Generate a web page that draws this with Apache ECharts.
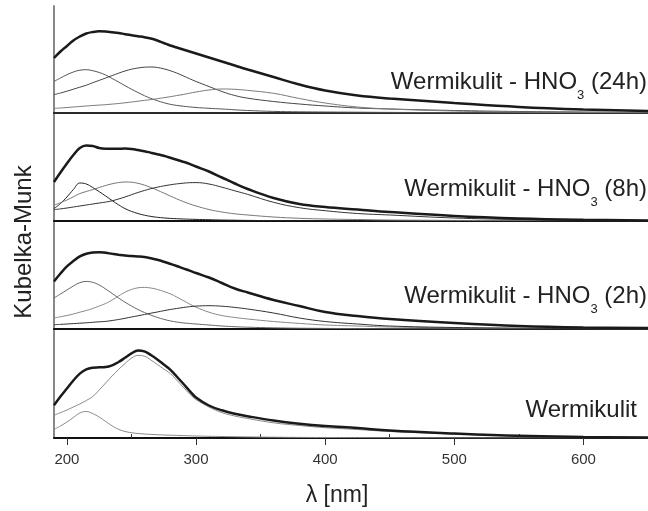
<!DOCTYPE html>
<html>
<head>
<meta charset="utf-8">
<script src="https://cdn.jsdelivr.net/npm/echarts@6/dist/echarts.min.js"></script>
<style>
  html, body { margin: 0; padding: 0; background: #fff; }
  #chart { width: 648px; height: 511px; }
</style>
</head>
<body>
<div id="chart"></div>
<script>
// wavelength grid (nm) shared by every curve
var wavelength = [190, 195, 200, 205, 210, 215, 220, 225, 230, 235, 240, 245, 250, 255, 260, 265, 270, 275, 280, 285, 290, 295, 300,
    310, 320, 330, 340, 360, 380, 400, 425, 450, 500, 550, 600, 650];

// Wermikulit - HNO3 (24h)
var h24Total = [55, 61.5, 67, 72.5, 76.5, 79.5, 81, 81.7, 81.5, 80.8, 80, 78.8, 77.8, 76.8, 75.8, 74.5, 72.5, 70, 67.5, 65.5, 63.5, 61.5, 59.5,
    55.5, 51.5, 47.5, 43.5, 36, 28.5, 22.5, 17.5, 14.5, 10, 6, 3.5, 2];
var h24A = [31.6, 35, 38.3, 41, 42.8, 43.3, 42.3, 40.5, 38, 34.5, 31, 27.3, 23.8, 20.5, 17.3, 14.6, 12.3, 10.3, 8.7, 7.6, 6.8, 6.1, 5.5,
    4.7, 4, 3.2, 2.5, 1.6, 1.2, 1, 0.8, 0.6, 0.4, 0.3, 0.2, 0.1];
var h24B = [18.3, 20, 21.8, 23.8, 25.8, 27.8, 30.3, 32.6, 35, 37.4, 39.8, 42, 43.8, 45, 45.8, 46, 45.5, 44.2, 42.3, 40, 37.2, 34.3, 31.5,
    26.5, 21.5, 17.5, 14.8, 11.5, 9, 7, 5, 4, 2.5, 1.5, 1, 0.6];
var h24C = [4.6, 5, 5.5, 6, 6.5, 7, 7.5, 7.9, 8.3, 8.9, 9.5, 10.2, 11, 11.8, 12.6, 13.4, 14.3, 15.3, 16.3, 17.4, 18.5, 19.8, 21,
    23, 24, 23.7, 22.6, 19.7, 14.5, 10, 6, 4, 2, 1, 0.6, 0.3];

// Wermikulit - HNO3 (8h)
var h8Total = [39, 48.5, 57.5, 66, 73, 75.6, 75, 73, 72.3, 72.2, 72.3, 72.4, 72, 71, 69.8, 68.3, 66.8, 65.2, 63.3, 61.3, 59.2, 57.2, 54.5,
    49.5, 43.5, 37.5, 32, 23, 17, 14, 11.5, 9, 5, 2.5, 1.2, 0.6];
var h8A = [12.4, 17.5, 24, 31.5, 38, 37, 33.5, 29.3, 25, 20.5, 16.2, 12.4, 9.6, 7.5, 5.8, 4.6, 3.7, 3.1, 2.6, 2.3, 2, 1.8, 1.6,
    1.3, 1, 0.8, 0.6, 0.4, 0.3, 0.2, 0.2, 0.1, 0.1, 0, 0, 0];
var h8B = [15.7, 18.3, 21, 24.2, 27.4, 29.5, 31.4, 33.5, 35.5, 37.2, 38.4, 39, 38.8, 37.7, 35.9, 33.5, 30.8, 28, 25, 22.2, 19.5, 17.1, 15,
    11.5, 9, 7.2, 6, 4, 2.7, 2, 1.5, 1, 0.6, 0.4, 0.3, 0.2];
var h8C = [11.4, 12.1, 13, 14, 15, 16, 17, 18, 18.9, 20.2, 22, 24, 26.3, 28.5, 30.5, 32.3, 33.8, 35.1, 36.2, 37.1, 37.8, 38.3, 38.4,
    37, 33.8, 30.2, 26.6, 18.7, 13.3, 10.3, 7.5, 6, 3, 1.5, 0.8, 0.4];

// Wermikulit - HNO3 (2h)
var h2Total = [47.6, 55.5, 62.6, 68, 72.6, 75.3, 76.6, 76.8, 76.2, 75.2, 74.3, 73.5, 73, 72.6, 72, 70.8, 69.2, 67.3, 65.2, 63, 60.6, 58.4, 56,
    51.5, 46, 40.5, 36.5, 29, 23, 17, 13, 10, 6, 3, 1.5, 1];
var h2A = [31, 35, 39, 43, 46.3, 47.6, 46.7, 44, 40, 35.6, 31, 26.8, 23, 19.5, 16.5, 13.9, 11.6, 9.7, 8.1, 7, 6.1, 5.5, 5,
    4, 3, 2.3, 1.8, 1.2, 0.8, 0.6, 0.4, 0.3, 0.2, 0.1, 0.1, 0];
var h2B = [11, 12.2, 13.5, 15, 16.8, 18.5, 20.5, 23, 25.5, 29, 33, 36.8, 39.5, 41.2, 41.6, 41, 39.6, 37.5, 35.2, 32, 28.5, 25, 21.8,
    16.8, 13.5, 11.5, 10, 7.5, 5.6, 4, 3, 2, 1.2, 0.7, 0.4, 0.2];
var h2C = [4.3, 4.6, 5, 5.4, 5.8, 6.2, 6.7, 7.2, 7.6, 8.5, 9.5, 10.7, 12, 13.2, 14.5, 15.8, 17, 18.3, 19.5, 20.5, 21.5, 22.3, 22.9,
    23.3, 22.8, 21.6, 20, 16, 11, 7.5, 5, 3, 1.5, 0.8, 0.4, 0.2];

// Wermikulit
var w0Total = [32.7, 41.5, 49.5, 57.5, 64.4, 68.6, 70.3, 70.7, 71, 72.7, 76, 80.2, 84.6, 87.6, 86.6, 83, 78.6, 73.5, 68.3, 61.5, 54.5, 47.2, 40.5,
    32.5, 27.7, 24.3, 21.8, 17.5, 14.3, 12, 10, 7.5, 4.5, 2.2, 1.1, 0.5];
var w0A = [8.7, 12, 16, 20.5, 25, 26.5, 24.4, 21, 16.5, 12.2, 8.7, 6.5, 5.3, 4.5, 4, 3.6, 3.3, 3, 2.8, 2.6, 2.4, 2.2, 2,
    1.7, 1.5, 1.3, 1.1, 0.8, 0.6, 0.5, 0.4, 0.3, 0.2, 0.1, 0.1, 0];
var w0B = [22.7, 25.3, 28, 31, 34, 37.5, 41.5, 48, 55, 62, 68.5, 74.5, 79.8, 82.6, 81.8, 78, 73.6, 69, 64.5, 58, 51, 44, 38.5,
    31, 25.4, 22, 19.5, 15.2, 12.5, 10.3, 8.5, 6.5, 4, 2, 1, 0.5];

var majorTicks = [200, 300, 400, 500, 600];
var minorTicks = [250, 350, 450, 550, 650];

var panelLabels = ['Wermikulit - HNO{sub|3} (24h)', 'Wermikulit - HNO{sub|3} (8h)', 'Wermikulit - HNO{sub|3} (2h)', 'Wermikulit'];

var FONT = '"Liberation Sans", Arial, sans-serif';

function pairs(values) {
    return wavelength.map(function (w, i) { return [w, values[i]]; });
}

// panel boxes (top, height) in px
var panels = [
    { top: 6, height: 107 },
    { top: 113, height: 108 },
    { top: 221, height: 108 },
    { top: 329, height: 109 }
];

var curves = [
    [[h24A, '#555'], [h24B, '#444'], [h24C, '#7a7a7a'], [h24Total, '#1a1a1a']],
    [[h8A, '#222'], [h8B, '#777'], [h8C, '#333'], [h8Total, '#1a1a1a']],
    [[h2A, '#666'], [h2B, '#888'], [h2C, '#333'], [h2Total, '#1a1a1a']],
    [[w0A, '#888'], [w0B, '#888'], [w0Total, '#1a1a1a']]
];

var grids = [], xAxes = [], yAxes = [], series = [];

panels.forEach(function (p, k) {
    grids.push({ left: 54, width: 598, top: p.top, height: p.height });
    var last = k === panels.length - 1;
    xAxes.push({
        type: 'value', gridIndex: k, min: 190, max: 650,
        axisLine: { show: true, onZero: false, lineStyle: { color: '#111', width: 2 } },
        axisTick: { show: last, customValues: majorTicks, length: 7, lineStyle: { color: '#333' } },
        axisLabel: { show: last, customValues: majorTicks, margin: 14, fontSize: 15, color: '#333', fontFamily: FONT },
        splitLine: { show: false }
    });
    yAxes.push({
        type: 'value', gridIndex: k, min: 0, max: p.height,
        axisLine: { show: true, lineStyle: { color: '#888', width: 2 } },
        axisTick: { show: false }, axisLabel: { show: false }, splitLine: { show: false }
    });
    curves[k].forEach(function (c, j) {
        var thick = j === curves[k].length - 1;
        series.push({
            type: 'line', xAxisIndex: k, yAxisIndex: k,
            data: pairs(c[0]), smooth: 0.4, showSymbol: false, silent: true,
            z: thick ? 3 : 2,
            lineStyle: { color: c[1], width: thick ? 2.5 : 1 }
        });
    });
});

// top frame line of the first panel
xAxes.push({
    type: 'value', gridIndex: 0, min: 190, max: 650, position: 'top',
    axisLine: { show: true, lineStyle: { color: '#333', width: 1.5 } },
    axisTick: { show: false }, axisLabel: { show: false }, splitLine: { show: false }
});
// minor ticks of the bottom axis
xAxes.push({
    type: 'value', gridIndex: 3, min: 190, max: 650,
    axisLine: { show: false },
    axisTick: { show: true, customValues: minorTicks, length: 4, lineStyle: { color: '#333' } },
    axisLabel: { show: false }, splitLine: { show: false }
});

// label baselines and right edges (px)
var labelBase = [90, 197, 304, 418];
var labelRight = [647, 647, 647, 637];
var graphics = panelLabels.map(function (t, k) {
    return {
        type: 'text', x: labelRight[k], y: labelBase[k] - 28,
        style: {
            text: t, fill: '#222', font: '24px ' + FONT, align: 'right', verticalAlign: 'top',
            lineHeight: 40,
            rich: { sub: { fontSize: 13, lineHeight: 13, verticalAlign: 'bottom', fontFamily: FONT, fill: '#222' } }
        }
    };
});
graphics.push({
    type: 'text', x: 24, y: 242, rotation: Math.PI / 2,
    style: { text: 'Kubelka-Munk', fill: '#222', font: '24px ' + FONT, align: 'center', verticalAlign: 'middle' }
});
graphics.push({
    type: 'text', x: 337, y: 496,
    style: { text: 'λ [nm]', fill: '#222', font: '23px ' + FONT, align: 'center', verticalAlign: 'middle' }
});

var option = {
    animation: false,
    backgroundColor: '#fff',
    grid: grids,
    xAxis: xAxes,
    yAxis: yAxes,
    series: series,
    graphic: graphics
};

var myChart = echarts.init(document.getElementById('chart'));
myChart.setOption(option);
</script>
</body>
</html>
